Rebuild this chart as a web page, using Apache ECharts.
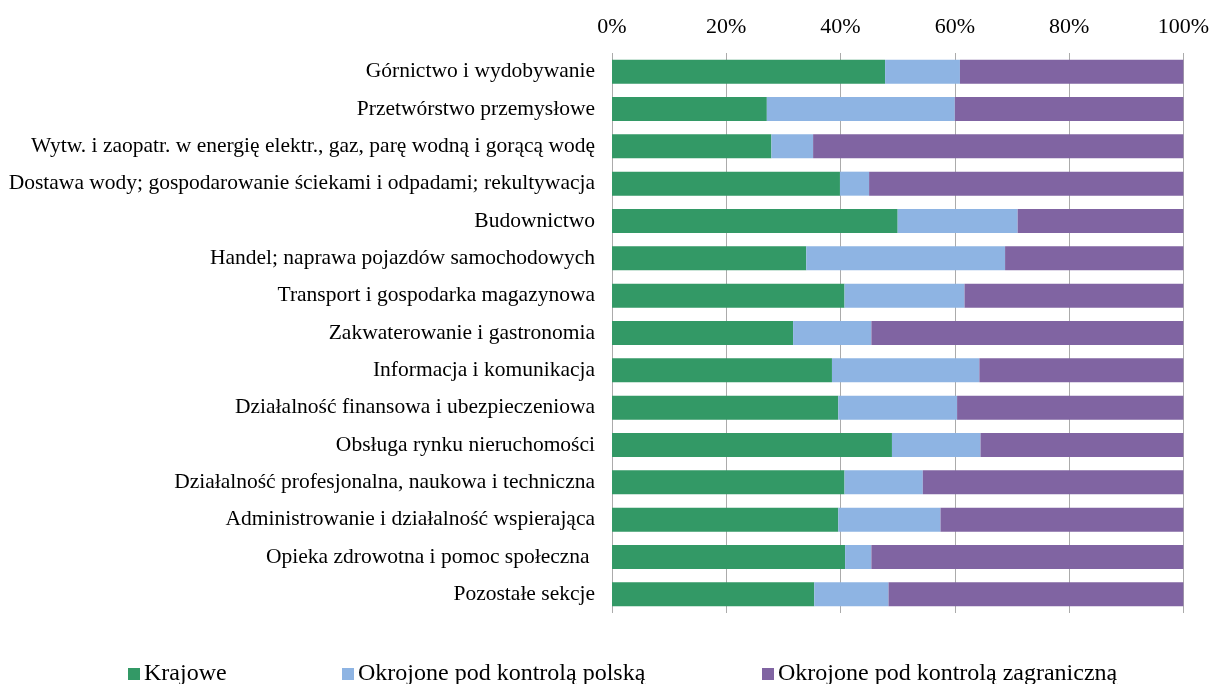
<!DOCTYPE html>
<html>
<head>
<meta charset="utf-8">
<script src="https://cdn.jsdelivr.net/npm/echarts@6/dist/echarts.min.js"></script>
<style>
  html, body { margin: 0; padding: 0; background: #fff; }
  #main { width: 1212px; height: 684px; }
</style>
</head>
<body>
<div id="main"></div>
<script>
const categories = [
  "Górnictwo i wydobywanie",
  "Przetwórstwo przemysłowe",
  "Wytw. i zaopatr. w energię elektr., gaz, parę wodną i gorącą wodę",
  "Dostawa wody; gospodarowanie ściekami i odpadami; rekultywacja",
  "Budownictwo",
  "Handel; naprawa pojazdów samochodowych",
  "Transport i gospodarka magazynowa",
  "Zakwaterowanie i gastronomia",
  "Informacja i komunikacja",
  "Działalność finansowa i ubezpieczeniowa",
  "Obsługa rynku nieruchomości",
  "Działalność profesjonalna, naukowa i techniczna",
  "Administrowanie i działalność wspierająca",
  "Opieka zdrowotna i pomoc społeczna ",
  "Pozostałe sekcje"
];

// shares in %
const krajowe     = [47.8, 27.1, 27.9, 39.9, 50.0, 34.0, 40.7, 31.7, 38.5, 39.6, 49.0, 40.7, 39.6, 40.8, 35.4];
const polska      = [13.1, 32.9,  7.3,  5.1, 21.0, 34.8, 21.0, 13.7, 25.8, 20.8, 15.5, 13.7, 17.9,  4.6, 13.0];
const zagraniczna = [39.1, 40.0, 64.8, 55.0, 29.0, 31.2, 38.3, 54.6, 35.7, 39.6, 35.5, 45.6, 42.5, 54.6, 51.6];

const seriesNames = ["Krajowe", "Okrojone pod kontrolą polską", "Okrojone pod kontrolą zagraniczną"];
const colors = ["#339966", "#8EB4E3", "#8064A2"];

const font = "'Liberation Serif', 'Times New Roman', serif";

const chart = echarts.init(document.getElementById("main"));

const legendLeft = [128, 342, 762];

chart.setOption({
  animation: false,
  textStyle: { fontFamily: font },
  grid: { left: 612, right: 26.5, top: 53, bottom: 71, containLabel: false },
  legend: seriesNames.map((name, i) => ({
    data: [name],
    left: legendLeft[i],
    top: 662,
    icon: "rect",
    itemWidth: 12,
    itemHeight: 12,
    itemGap: 0,
    textStyle: { fontFamily: font, fontSize: 24, color: "#000", padding: [0, 0, 0, -1] },
    padding: 0
  })),
  xAxis: {
    type: "value",
    position: "top",
    min: 0,
    max: 100,
    interval: 20,
    axisLine: { show: false },
    axisTick: { show: false },
    axisLabel: { formatter: "{value}%", fontFamily: font, fontSize: 22, color: "#000", margin: 15 },
    splitLine: { show: true, lineStyle: { color: "#ABABAB", width: 1 } }
  },
  yAxis: {
    type: "category",
    inverse: true,
    data: categories,
    axisLine: { show: false },
    axisTick: { show: false },
    axisLabel: { fontFamily: font, fontSize: 21.5, color: "#000", margin: 17 }
  },
  series: [krajowe, polska, zagraniczna].map((vals, i) => ({
    name: seriesNames[i],
    type: "bar",
    stack: "total",
    barWidth: 24,
    data: vals,
    itemStyle: { color: colors[i] }
  }))
});
</script>
</body>
</html>
